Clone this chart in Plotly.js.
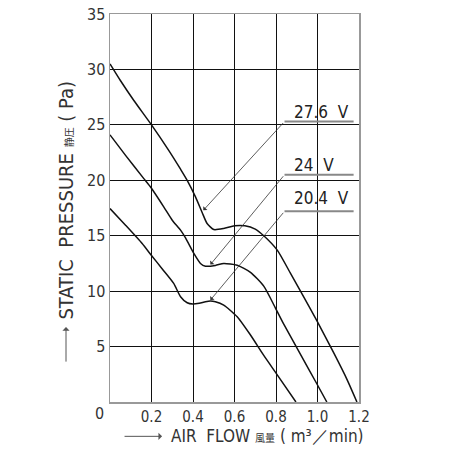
<!DOCTYPE html>
<html>
<head>
<meta charset="utf-8">
<script src="https://cdn.plot.ly/plotly-3.0.1.min.js"></script>
<style>html,body{margin:0;padding:0;background:#fff;}#chart{width:451px;height:450px;}</style>
</head>
<body>
<div id="chart"></div>
<script>
// Data (air flow m3/min vs static pressure Pa)
const flow276 = [0, 0.05, 0.115, 0.2, 0.283, 0.34, 0.372, 0.412, 0.444, 0.468, 0.50, 0.548, 0.60, 0.65, 0.70, 0.741, 0.806, 0.87, 0.918, 0.998, 1.079, 1.143, 1.19];
const pres276 = [30.5, 29.0, 27.2, 25.0, 22.7, 21.0, 20.0, 18.5, 17.1, 16.1, 15.56, 15.65, 15.9, 15.9, 15.6, 15.0, 13.7, 11.6, 10.0, 7.3, 4.4, 2.0, 0];

const flow24 = [0, 0.075, 0.163, 0.199, 0.259, 0.30, 0.34, 0.364, 0.404, 0.436, 0.46, 0.508, 0.548, 0.613, 0.677, 0.741, 0.798, 0.838, 0.918, 0.998, 1.045];
const pres24 = [24.1, 22.25, 20.15, 19.3, 17.6, 16.4, 15.5, 14.8, 13.4, 12.5, 12.25, 12.32, 12.5, 12.34, 11.7, 10.45, 8.45, 7.0, 4.3, 1.6, 0];

const flow204 = [0, 0.075, 0.155, 0.199, 0.252, 0.307, 0.34, 0.372, 0.399, 0.43, 0.46, 0.484, 0.508, 0.548, 0.613, 0.677, 0.741, 0.806, 0.896];
const pres204 = [17.45, 15.95, 14.3, 13.24, 12.0, 10.7, 9.5, 8.95, 8.83, 8.9, 9.04, 9.1, 9.04, 8.74, 7.69, 6.04, 4.2, 2.45, 0];

const seriesNames = ['27.6 V', '24 V', '20.4 V'];
// arrow tip (on curve) and leader-line start for each label
const tipX = [0.45, 0.484, 0.484];
const tipY = [17.3, 12.4, 9.2];
const leadX = [0.841, 0.841, 0.841];
const leadY = [25.3, 20.5, 17.2];
const lineEndX = 1.174;
const labelY = [26.2, 21.35, 18.4];

const xTickVals = [0.2, 0.4, 0.6, 0.8, 1.0, 1.2];
const xTickText = ['0.2', '0.4', '0.6', '0.8', '1.0', '1.2'];
const yTickVals = [5, 10, 15, 20, 25, 30, 35];
const yTickText = ['5', '10', '15', '20', '25', '30', '35'];

const FONT = 'Liberation Sans Narrow, DejaVu Sans Condensed, Liberation Sans, sans-serif';
const lineStyle = {color: '#111', width: 1.5, shape: 'spline', smoothing: 0.6};

const traces = [
  {x: flow276, y: pres276, mode: 'lines', line: lineStyle, name: seriesNames[0], hoverinfo: 'none'},
  {x: flow24, y: pres24, mode: 'lines', line: lineStyle, name: seriesNames[1], hoverinfo: 'none'},
  {x: flow204, y: pres204, mode: 'lines', line: lineStyle, name: seriesNames[2], hoverinfo: 'none'}
];

const annotations = [];
const shapes = [];
for (let i = 0; i < seriesNames.length; i++) {
  annotations.push({
    x: tipX[i], y: tipY[i], xref: 'x', yref: 'y',
    ax: leadX[i], ay: leadY[i], axref: 'x', ayref: 'y',
    text: '', showarrow: true, arrowhead: 1, arrowsize: 1.2, arrowwidth: 0.8, arrowcolor: '#333'
  });
  shapes.push({type: 'line', xref: 'x', yref: 'y', x0: leadX[i], x1: lineEndX, y0: leadY[i], y1: leadY[i],
    line: {color: '#888', width: 2}});
  annotations.push({
    x: leadX[i] + 0.034, y: labelY[i], xref: 'x', yref: 'y', xanchor: 'left', yanchor: 'middle',
    text: seriesNames[i].replace(' ', '\u00a0\u00a0'), showarrow: false,
    font: {family: FONT, size: 17, color: '#222'}
  });
}
// axis titles
annotations.push({
  x: -0.1767, y: 0.206, xref: 'paper', yref: 'paper', xanchor: 'center', yanchor: 'bottom',
  textangle: -90, showarrow: false,
  text: 'STATIC\u00a0\u00a0PRESSURE <span style="font-family:Noto Sans CJK JP;font-size:10px">静圧</span> (\u00a0Pa)',
  font: {family: FONT, size: 20, color: '#333'}
});
annotations.push({
  x: -0.1767, y: 0.193, xref: 'paper', yref: 'paper', text: '', showarrow: true,
  ax: 0, ay: 36, arrowhead: 1, arrowsize: 1.2, arrowwidth: 1, arrowcolor: '#555'
});
annotations.push({
  x: 0.237, y: -0.0885, xref: 'paper', yref: 'paper', xanchor: 'left', yanchor: 'middle',
  showarrow: false,
  text: 'AIR\u00a0\u00a0FLOW <span style="font-family:Noto Sans CJK JP;font-size:10px">風量</span> (\u00a0m³／min)',
  font: {family: FONT, size: 17, color: '#333'}
});
annotations.push({
  x: 0.209, y: -0.0885, xref: 'paper', yref: 'paper', text: '', showarrow: true,
  ax: -39, ay: 0, arrowhead: 1, arrowsize: 1.2, arrowwidth: 1, arrowcolor: '#555'
});
annotations.push({
  x: -0.044, y: -0.0284, xref: 'paper', yref: 'paper', xanchor: 'center', yanchor: 'middle',
  text: '0', showarrow: false, font: {family: FONT, size: 16, color: '#333'}
});

const layout = {
  width: 451, height: 450,
  margin: {l: 110, r: 92, t: 14, b: 48, pad: 0},
  paper_bgcolor: '#fff', plot_bgcolor: '#fff',
  showlegend: false,
  xaxis: {
    range: [0, 1.2], tickvals: xTickVals, ticktext: xTickText,
    showgrid: true, gridcolor: '#111', gridwidth: 1, zeroline: false,
    showline: true, mirror: true, linecolor: '#999', linewidth: 1.5,
    ticks: '', tickfont: {family: FONT, size: 15, color: '#333'}
  },
  yaxis: {
    range: [0, 35], tickvals: yTickVals, ticktext: yTickText,
    showgrid: true, gridcolor: '#111', gridwidth: 1, zeroline: false,
    showline: true, mirror: true, linecolor: '#999', linewidth: 1.5,
    ticks: '', tickfont: {family: FONT, size: 16, color: '#333'}
  },
  annotations: annotations,
  shapes: shapes
};

Plotly.newPlot('chart', traces, layout, {displayModeBar: false, staticPlot: true});
</script>
</body>
</html>
